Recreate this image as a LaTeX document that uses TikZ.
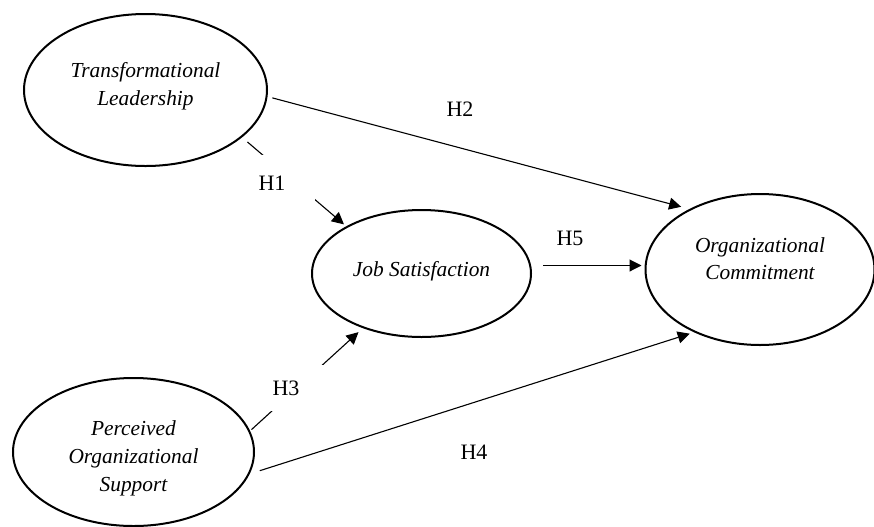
\documentclass[tikz,border=0pt]{standalone}
\usepackage{fontspec}
\setmainfont{Liberation Serif}
\usetikzlibrary{arrows.meta,shapes.geometric}
\newcommand{\liftText}[2]{\raisebox{#1}[\height][\depth]{\begin{tabular}{@{}c@{}}#2\end{tabular}}}
\tikzset{
  latent/.style={ellipse, draw, line width=1pt, inner sep=2pt, outer sep=0pt, align=center,
    font=\fontsize{10.7}{13.8}\selectfont\itshape},
  hyp/.style={draw, line width=0.55pt, -{Triangle[length=6pt,width=6pt]}},
  hlabel/.style={inner sep=0pt, font=\fontsize{11}{13}\selectfont},
  gapbox/.style={hlabel, fill=white},
}
\begin{document}
\begin{tikzpicture}[x=0.5pt,y=-0.5pt]
\useasboundingbox (0,0) rectangle (874,526);
%潛在變項
\node[latent, minimum width=121.5pt, minimum height=76pt] (nTL) at (145.5,90) {\liftText{2pt}{Transformational\\Leadership}};
\node[latent, minimum width=109.5pt, minimum height=63.5pt] (nJS) at (421.5,273.5) {\liftText{1.5pt}{Job Satisfaction}};
\node[latent, minimum width=114.5pt, minimum height=75.5pt] (nOC) at (760,269.5) {\liftText{4.5pt}{Organizational\\Commitment}};
\node[latent, minimum width=120.5pt, minimum height=74pt] (nPOS) at (133.5,452) {\liftText{-3pt}{Perceived\\Organizational\\Support}};

%假設路徑
\draw[hyp, shorten <=4pt, shorten >=2pt] (nTL.-26) -- (nJS.148.3);
\draw[hyp, shorten <=3pt, shorten >=5pt] (nTL.-3.1) -- (nOC.139.2);
\draw[hyp, shorten <=1.5pt, shorten >=3.5pt] (nPOS.10.5) -- (nJS.-137.3);
\draw[hyp, shorten <=6pt, shorten >=3pt] (nPOS.-11.8) -- (nOC.-136.9);
\draw[hyp, shorten <=6pt, shorten >=2pt] ([yshift=4pt]nJS.east) -- ([yshift=4pt]nJS.east -| nOC.west);

\node[gapbox, minimum width=43pt, minimum height=28pt] (lH1) at (272,183) {H1};
\node[gapbox, minimum width=39pt, minimum height=23pt] (lH3) at (286,388) {H3};
\foreach \t/\x/\y in {H2/460/109, H4/474/452, H5/570/238}
{
    \node[hlabel] (l\t) at (\x,\y) {\t};
};
\end{tikzpicture}
\end{document}
